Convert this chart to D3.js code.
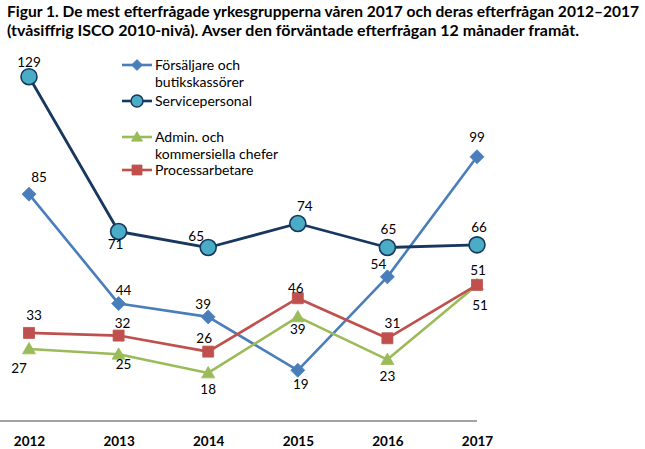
<!DOCTYPE html>
<html><head><meta charset="utf-8">
<script src="https://cdn.jsdelivr.net/npm/d3@7/dist/d3.min.js"></script>
<style>body{margin:0;background:#fff}svg{display:block}</style>
</head><body>
<svg id="c" width="645" height="449"></svg>
<script>
const years = ["2012","2013","2014","2015","2016","2017"];
const forsaljare = [85,44,39,19,54,99];
const service = [129,71,65,74,65,66];
const admin = [27,25,18,39,23,51];
const process = [33,32,26,46,31,51];
const seriesNames = [["Försäljare och","butikskassörer"],["Servicepersonal"],["Admin. och","kommersiella chefer"],["Processarbetare"]];
const titleLines = ["Figur 1. De mest efterfrågade yrkesgrupperna våren 2017 och deras efterfrågan 2012–2017","(tvåsiffrig ISCO 2010-nivå). Avser den förväntade efterfrågan 12 månader framåt."];

// label offsets (style)
const labelOff = [
  [[10,-17],[5,-13],[-5,-13],[3,14],[-9,-13],[0,-19]],
  [[0,-14],[-3,13],[-12,-11],[7,-17],[1,-18],[2,-18]],
  [[-10,19],[5,10],[0,16],[0,12],[0,17],[3,20]],
  [[5,-18],[4,-12],[-4,-13],[-2,-10],[5,-15],[1,-15]]
];
const styles = [
  {color:"#4A7EBB", marker:"diamond", fill:"#4A7EBB", stroke:"#4A7EBB"},
  {color:"#17375E", marker:"circle", fill:"#4BACC6", stroke:"#17375E"},
  {color:"#9BBB59", marker:"triangle", fill:"#9BBB59", stroke:"#9BBB59"},
  {color:"#C0504D", marker:"square", fill:"#C0504D", stroke:"#C0504D"}
];
const data = [forsaljare, service, admin, process];

const svg = d3.select("#c");
const font = "Lato, 'Open Sans', sans-serif";

const x = d3.scalePoint().domain(years).range([29,477]);
const y = d3.scaleLinear().domain([0,129]).range([421,76.7]);

// title
svg.selectAll("text.title").data(titleLines).join("text")
  .attr("x",7).attr("y",(d,i)=>17+i*19)
  .attr("font-family",font).attr("font-weight","bold").attr("font-size",15.5)
  .attr("fill","#000")
  .attr("textLength",(d,i)=>i===0?632:572).attr("lengthAdjust","spacingAndGlyphs")
  .text(d=>d);

// axis
const xAxis = d3.axisBottom(x).tickSize(0).tickPadding(0);
const ax = svg.append("g").attr("transform","translate(0,421)").call(xAxis);
ax.select(".domain").attr("d","M-1,0H477").attr("stroke","#868686").attr("stroke-width",1.3);
ax.selectAll(".tick text").attr("font-family",font).attr("font-weight","bold").attr("font-size",13.5)
  .attr("fill","#000").attr("dy",null).attr("y",25);

function markerPath(type, r){
  if(type==="diamond") return `M0,${-r}L${r},0L0,${r}L${-r},0Z`;
  if(type==="square") return `M${-r},${-r}H${r}V${r}H${-r}Z`;
  if(type==="triangle") return `M0,${-r}L${r},${r*0.75}H${-r}Z`;
  return d3.symbol().type(d3.symbolCircle).size(Math.PI*r*r)();
}
const radii = {diamond:7, circle:8, triangle:6.5, square:5.5};

const line = d3.line().x((d,i)=>x(years[i])).y(d=>y(d));
data.forEach((vals,si)=>{
  const st = styles[si];
  const g = svg.append("g");
  g.append("path").attr("d",line(vals)).attr("fill","none").attr("stroke",st.color)
    .attr("stroke-width",si===1?2.8:2.6).attr("stroke-linejoin","round");
  g.selectAll("path.m").data(vals).join("path").attr("class","m")
    .attr("transform",(d,i)=>`translate(${x(years[i])},${y(d)})`)
    .attr("d",markerPath(st.marker,radii[st.marker]))
    .attr("fill",st.fill).attr("stroke",st.stroke).attr("stroke-width",si===1?1.6:0.8);
  g.selectAll("text.l").data(vals).join("text").attr("class","l")
    .attr("x",(d,i)=>x(years[i])+labelOff[si][i][0])
    .attr("y",(d,i)=>y(d)+labelOff[si][i][1])
    .attr("dy","0.35em").attr("text-anchor","middle")
    .attr("font-family",font).attr("font-size",13.5).attr("fill","#000")
    .text(d=>d);
});

// legend
const legRows = [65,101,137,170];
const legR = {diamond:5.5, circle:6, triangle:5.5, square:5};
seriesNames.forEach((names,si)=>{
  const st = styles[si];
  const g = svg.append("g").attr("transform",`translate(0,${legRows[si]})`);
  g.append("line").attr("x1",122).attr("x2",152).attr("y1",0).attr("y2",0)
    .attr("stroke",st.color).attr("stroke-width",2.6);
  g.append("path").attr("transform","translate(137,0)")
    .attr("d",markerPath(st.marker,legR[st.marker]))
    .attr("fill",st.fill).attr("stroke",st.stroke).attr("stroke-width",si===1?1.5:0.8);
  names.forEach((n,j)=>{
    g.append("text").attr("x",155).attr("y",j*17.5).attr("dy","0.35em")
      .attr("font-family",font).attr("font-size",14).attr("fill","#000").text(n);
  });
});
</script>
</body></html>
